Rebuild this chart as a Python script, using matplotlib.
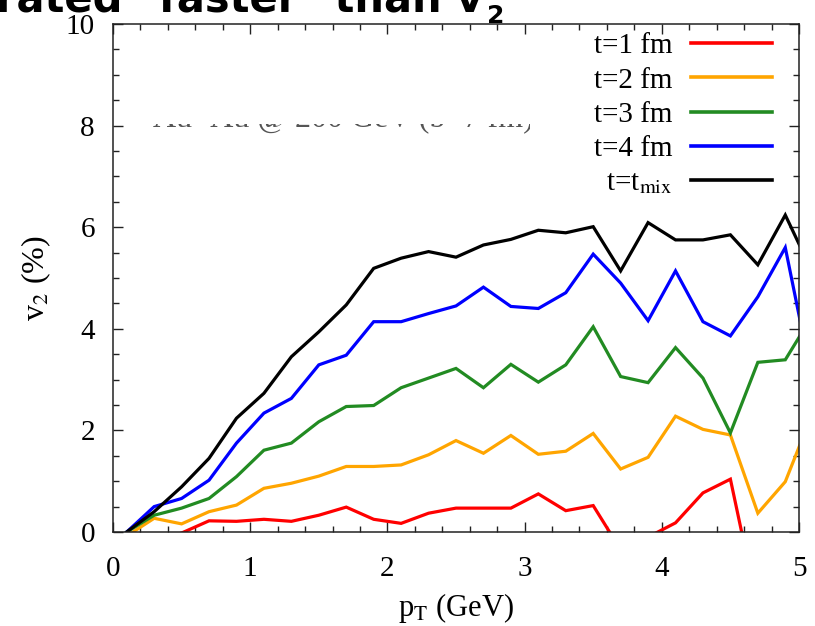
import matplotlib
matplotlib.use("Agg")
import matplotlib.pyplot as plt
from matplotlib.lines import Line2D
from matplotlib.transforms import Bbox, TransformedBbox
from matplotlib.ticker import MultipleLocator

# transverse momentum grid (GeV)
pt = [0.1, 0.3, 0.5, 0.7, 0.9, 1.1, 1.3, 1.5, 1.7, 1.9, 2.1, 2.3, 2.5,
      2.7, 2.9, 3.1, 3.3, 3.5, 3.7, 3.9, 4.1, 4.3, 4.5, 4.7, 4.9, 5.1]

# elliptic flow v2 (%) at successive times
v2_t1 = [-0.10, -0.20, -0.02, 0.22, 0.21, 0.25, 0.21, 0.33, 0.49, 0.25, 0.17, 0.37, 0.47,
         0.47, 0.47, 0.75, 0.42, 0.52, -0.35, -0.10, 0.18, 0.77, 1.04, -1.50, -1.00, -0.50]
v2_t2 = [-0.08, 0.27, 0.16, 0.40, 0.53, 0.86, 0.96, 1.10, 1.29, 1.29, 1.32, 1.52, 1.80,
         1.55, 1.90, 1.53, 1.59, 1.94, 1.24, 1.47, 2.28, 2.02, 1.91, 0.37, 0.99, 2.35]
v2_t3 = [0.00, 0.33, 0.47, 0.66, 1.09, 1.61, 1.75, 2.17, 2.47, 2.49, 2.84, 3.03, 3.22,
         2.84, 3.30, 2.95, 3.29, 4.04, 3.06, 2.94, 3.63, 3.03, 1.95, 3.34, 3.39, 4.27]
v2_t4 = [0.00, 0.50, 0.66, 1.02, 1.75, 2.34, 2.63, 3.29, 3.48, 4.14, 4.14, 4.30, 4.45,
         4.82, 4.44, 4.40, 4.71, 5.47, 4.90, 4.16, 5.14, 4.14, 3.86, 4.63, 5.60, 2.94]
v2_tmix = [0.00, 0.40, 0.89, 1.45, 2.24, 2.73, 3.45, 3.94, 4.47, 5.19, 5.39, 5.52, 5.41,
           5.65, 5.76, 5.94, 5.89, 6.01, 5.14, 6.09, 5.75, 5.75, 5.85, 5.26, 6.24, 5.10]

series = [v2_t1, v2_t2, v2_t3, v2_t4, v2_tmix]
labels = ["t=1 fm", "t=2 fm", "t=3 fm", "t=4 fm", r"t=t$_{\rm mix}$"]
colors = ["#ff0000", "#ffa500", "#228b22", "#0000ff", "#000000"]

plt.rcParams["font.family"] = ["Liberation Serif", "DejaVu Serif"]
plt.rcParams["mathtext.fontset"] = "stix"

W, H = 815, 626
fig = plt.figure(figsize=(W / 100, H / 100), dpi=100)
ax = fig.add_axes([113 / W, 1 - 532 / H, (799 - 113) / W, (532 - 24) / H])

for y, c in zip(series, colors):
    ax.plot(pt, y, color=c, lw=2.3, solid_joinstyle="miter")

ax.set_xlim(0, 5)
ax.set_ylim(0, 10)
ax.xaxis.set_major_locator(MultipleLocator(1))
ax.xaxis.set_minor_locator(MultipleLocator(0.2))
ax.yaxis.set_major_locator(MultipleLocator(2))
ax.yaxis.set_minor_locator(MultipleLocator(0.5))
ax.tick_params(which="both", direction="in", top=True, right=True,
               width=1.0, color="#222222", labelsize=21)
ax.tick_params(which="major", length=7)
ax.tick_params(which="minor", length=4.5)
ax.tick_params(axis="x", pad=17)
ax.tick_params(axis="y", pad=13)
for s in ax.spines.values():
    s.set_linewidth(1.1)
    s.set_color("#222222")

ax.set_xlabel(r"p$_{\rm T}$ (GeV)", fontsize=22, labelpad=7)
ax.set_ylabel(r"v$_2$ (%)", fontsize=23, labelpad=9)

handles = [Line2D([], [], color=c, lw=2.6) for c in colors]
ax.legend(handles, labels, loc="upper right", bbox_to_anchor=(772 / W, 1 - 33 / H),
          bbox_transform=fig.transFigure, frameon=False, markerfirst=False,
          fontsize=21, handlelength=2.77, handletextpad=0.65, labelspacing=0.27,
          borderpad=0, borderaxespad=0)

# caption line, only its lowest strip is shown
cap = fig.text(153 / W, 1 - 127 / H, "Au+Au @ 200 GeV (b=7 fm)", fontsize=23,
               color="#555555", va="baseline")
cap.set_clip_box(TransformedBbox(Bbox([[140 / W, 0.0], [530 / W, 1 - 124 / H]]),
                                 fig.transFigure))
cap.set_clip_on(True)

# heading text cut off at the top edge
title = fig.text(-4 / W, 1 - 12 / H, 'rated "faster" than v', fontsize=30,
                 fontweight="bold", family="DejaVu Sans", va="baseline")
fig.canvas.draw()
bb = title.get_window_extent()
fig.text((bb.x1 + 4) / W, 1 - 23 / H, "2", fontsize=18, fontweight="bold",
         family="DejaVu Sans", va="baseline")

fig.savefig("out.png", dpi=100)
